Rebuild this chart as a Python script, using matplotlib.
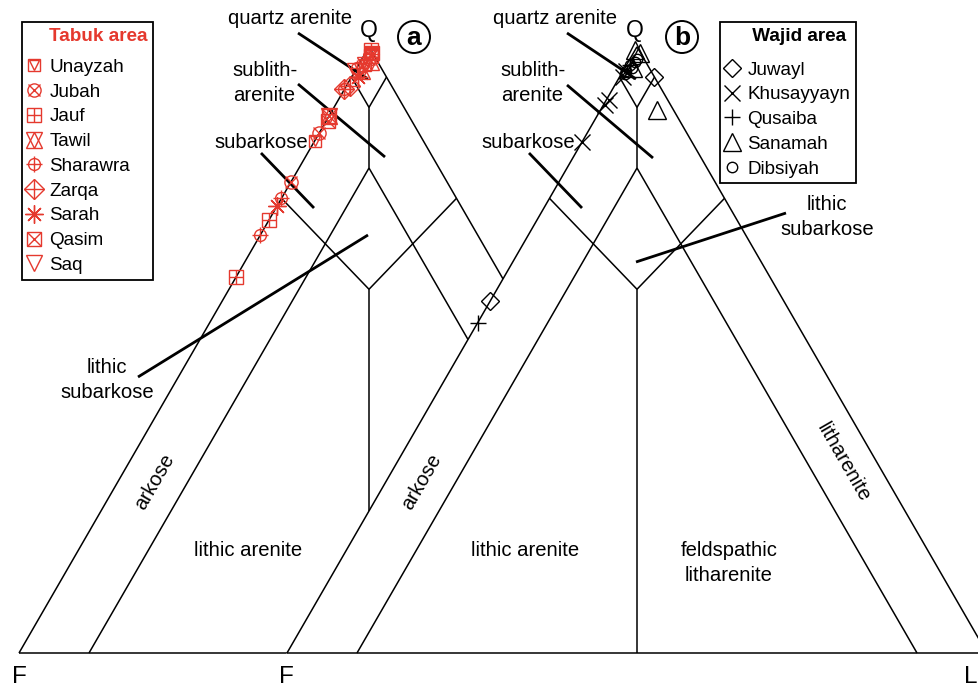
import numpy as np
import matplotlib
matplotlib.use("Agg")
import matplotlib.pyplot as plt
from matplotlib.lines import Line2D
from matplotlib.patches import Circle, Polygon

plt.rcParams['font.family'] = ['Liberation Sans', 'DejaVu Sans']

W, H = 979, 689
RED = '#e5392e'

# sample compositions (Q, F, L in %)
# Tabuk area -> diagram a
unayzah = [(84.5, 15.5, 0), (97, 2, 1), (99, 0, 1)]
jubah = [(77.7, 22.3, 0), (85.8, 14.2, 0), (98, 1, 1)]
jauf = [(62, 38, 0), (71.5, 28.5, 0), (99.5, 0, 0.5)]
tawil = [(88.6, 11.4, 0), (96, 3, 1), (97.5, 1, 1.5)]
sharawra = [(69, 31, 0), (75, 25, 0), (93, 7, 0), (96.5, 3.5, 0)]
zarqa = [(93, 7, 0), (93.5, 6, 0.5)]
sarah = [(73.8, 26.2, 0), (95, 4, 1)]
qasim = [(88.6, 11.4, 0), (87.8, 12, 0.2), (98.5, 0.5, 1), (99, 0, 1)]
saq = [(96, 4, 0), (97, 2, 1)]

# Wajid area -> diagram b
juwayl = [(95, 0, 5), (58, 42, 0)]
khusayyayn = [(90.4, 9.4, 0.2), (91.3, 8.4, 0.3), (84.3, 15.7, 0), (96, 3.5, 0.5), (95, 4.5, 0.5)]
qusaiba = [(54.5, 45.5, 0), (97, 2.5, 0.5)]
sanamah = [(99.5, 0.5, 0), (99, 0, 1), (96.5, 2.3, 1.2), (89.6, 2.3, 8.1)]
dibsiyah = [(97, 2.5, 0.5), (96, 3.5, 0.5), (97.5, 1.5, 1), (95.5, 4, 0.5), (98, 1, 1), (96.5, 2.5, 1)]

# field boundaries of the classification, (Q, F, L) end points
bounds = [
    [(100, 0, 0), (0, 100, 0)], [(100, 0, 0), (0, 0, 100)], [(0, 100, 0), (0, 0, 100)],
    [(95, 5, 0), (90, 5, 5)], [(95, 0, 5), (90, 5, 5)], [(90, 5, 5), (80, 10, 10)],
    [(80, 10, 10), (0, 90, 10)], [(80, 10, 10), (0, 10, 90)],
    [(75, 25, 0), (60, 20, 20)], [(75, 0, 25), (60, 20, 20)], [(60, 20, 20), (0, 50, 50)],
]

SCALE = 700.0          # px per unit side
DX_B = 268 / SCALE     # offset of diagram b
S3 = np.sqrt(3) / 2


def tern(pts, dx=0.0):
    a = np.asarray(pts, float)
    a = a / a.sum(axis=1, keepdims=True)
    q, f, l = a[:, 0], a[:, 1], a[:, 2]
    return dx + l + q / 2, q * S3


def P(x, y):
    return x / W, 1 - y / H


fig = plt.figure(figsize=(W / 100, H / 100), dpi=100)
ax = fig.add_axes([0, 0, 1, 1])
ax.set_xlim(-19 / SCALE, (W - 19) / SCALE)
ax.set_ylim(-(H - 653) / SCALE, 653 / SCALE)
ax.set_aspect('equal')
ax.axis('off')

# diagram a is hidden where it runs into diagram b
clip = Polygon([(-1, -0.2), (DX_B - 0.2 / np.sqrt(3), -0.2),
                (DX_B + 1.2 / np.sqrt(3), 1.2), (-1, 1.2)],
               transform=ax.transData, fc='none', ec='none')
ax.add_patch(clip)

for seg in bounds:
    xa, ya = tern(seg)
    la, = ax.plot(xa, ya, color='black', lw=1.1, solid_capstyle='butt')
    la.set_clip_path(clip)
    xb, yb = tern(seg, DX_B)
    ax.plot(xb, yb, color='black', lw=1.1, solid_capstyle='butt')

mk = dict(ls='none', mfc='none', mew=1.0)
tabuk = [
    ('Unayzah', unayzah, [('s', 9), ('v', 7)]),
    ('Jubah', jubah, [('o', 9.5), ('x', 8)]),
    ('Jauf', jauf, [('s', 9.5), ('+', 9.5)]),
    ('Tawil', tawil, [('^', 12), ('v', 12)]),
    ('Sharawra', sharawra, [('o', 8.5), ('+', 11)]),
    ('Zarqa', zarqa, [('D', 10), ('+', 14)]),
    ('Sarah', sarah, [((8, 2, 0), 13)]),
    ('Qasim', qasim, [('s', 9.5), ('x', 9.5)]),
    ('Saq', saq, [('v', 12)]),
]
wajid = [
    ('Juwayl', juwayl, [('D', 9)]),
    ('Khusayyayn', khusayyayn, [('x', 11)]),
    ('Qusaiba', qusaiba, [('+', 12)]),
    ('Sanamah', sanamah, [('^', 13)]),
    ('Dibsiyah', dibsiyah, [('o', 7.5)]),
]

h_tab, l_tab = [], []
for name, pts, shapes in tabuk:
    x, y = tern(pts)
    hs = []
    for m, s in shapes:
        ax.plot(x, y, marker=m, ms=s, mec=RED, zorder=5, **mk)
        hs.append(Line2D([], [], marker=m, ms=s, mec=RED, **mk))
    h_tab.append(tuple(hs))
    l_tab.append(name)

h_waj, l_waj = [], []
for name, pts, shapes in wajid:
    x, y = tern(pts, DX_B)
    hs = []
    for m, s in shapes:
        ax.plot(x, y, marker=m, ms=s, mec='black', zorder=5, **mk)
        hs.append(Line2D([], [], marker=m, ms=s, mec='black', **mk))
    h_waj.append(tuple(hs))
    l_waj.append(name)

leg_kw = dict(loc='upper left', borderaxespad=0, fontsize=13.6, title_fontsize=13.6,
              fancybox=False, framealpha=1, edgecolor='black', borderpad=0.3,
              handlelength=0.7, handletextpad=0.45, labelspacing=0.4,
              numpoints=1, alignment='left')
leg1 = ax.legend(h_tab, l_tab, bbox_to_anchor=P(22, 22), title='    Tabuk area', **leg_kw)
leg1.get_title().set_color(RED)
leg1.get_title().set_fontweight('bold')
leg1.get_frame().set_linewidth(1.3)
leg1._legend_box.sep = 10
ax.add_artist(leg1)
leg2 = ax.legend(h_waj, l_waj, bbox_to_anchor=P(720, 22), title='     Wajid area', **leg_kw)
leg2.get_title().set_fontweight('bold')
leg2.get_frame().set_linewidth(1.3)
leg2._legend_box.sep = 12

# vertex letters
txt = dict(transform=ax.transAxes, ha='center', va='baseline')
for x in (369, 635):
    ax.text(*P(x, 37), 'Q', fontsize=16.5, **txt)
for x in (19, 286):
    ax.text(*P(x, 683), 'F', fontsize=17.5, **txt)
ax.text(*P(971, 683), 'L', fontsize=17.5, **txt)

for x, s in ((414, 'a'), (682, 'b')):
    cx, cy = (x - 19) / SCALE, (653 - 37) / SCALE
    ax.add_patch(Circle((cx, cy), 16 / SCALE, fc='white', ec='black', lw=1.4, zorder=6))
    ax.text(cx, cy - 1 / SCALE, s, fontsize=19, fontweight='bold', ha='center', va='center', zorder=7)

# field names
fs = 14.6
labels = [
    ('quartz arenite', 290, 19, 0, 'center'), ('quartz arenite', 555, 19, 0, 'center'),
    ('sublith-\narenite', 232, 83, 0, 'left'), ('sublith-\narenite', 500, 83, 0, 'left'),
    ('subarkose', 261, 142, 0, 'center'), ('subarkose', 528, 143, 0, 'center'),
    ('lithic\nsubarkose', 107, 380, 0, 'center'), ('lithic\nsubarkose', 827, 217, 0, 'center'),
    ('arkose', 155, 482, 60, 'center'), ('arkose', 422, 482, 60, 'center'),
    ('lithic arenite', 248, 550, 0, 'center'), ('lithic arenite', 525, 550, 0, 'center'),
    ('feldspathic\nlitharenite', 729, 563, 0, 'center'),
    ('litharenite', 843, 462, -60, 'center'),
]
for s, x, y, rot, ha in labels:
    ax.text(*P(x, y), s, fontsize=fs, rotation=rot, ha=ha, va='center',
            multialignment='center', linespacing=1.35, transform=ax.transAxes, zorder=4)

pointers = [
    ((298, 33), (368, 79)), ((298, 84), (385, 157)), ((261, 153), (314, 208)),
    ((138, 377), (368, 235)),
    ((567, 33), (636, 79)), ((567, 85), (653, 158)), ((529, 153), (582, 208)),
    ((786, 213), (636, 262)),
]
for p0, p1 in pointers:
    (x0, y0), (x1, y1) = P(*p0), P(*p1)
    ax.plot([x0, x1], [y0, y1], color='black', lw=2.0, transform=ax.transAxes,
            solid_capstyle='butt')

fig.savefig('out.png', dpi=100)
